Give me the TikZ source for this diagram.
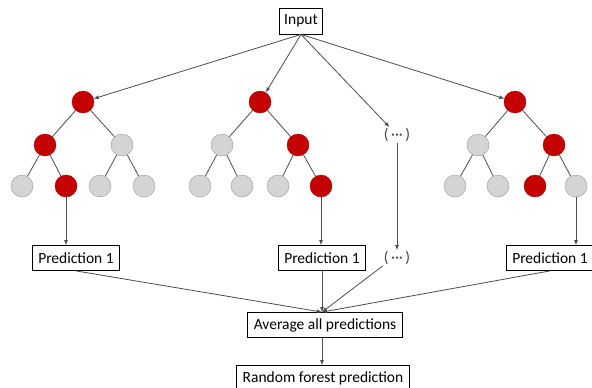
\documentclass[tikz,border=0pt]{standalone}
\usepackage{fontspec}
\setmainfont{Carlito}
\usetikzlibrary{arrows.meta}
\definecolor{leafred}{RGB}{196,0,0}
\definecolor{leafgray}{RGB}{212,212,212}
\tikzset{
  red node/.style = {circle, fill=leafred, draw=leafred!80!black, minimum size=22pt, inner sep=0pt},
  gray node/.style = {circle, fill=leafgray, draw=gray!80, minimum size=22pt, inner sep=0pt},
  box/.style = {draw, thick, inner xsep=6pt, minimum height=25pt, font=\fontsize{15.5}{17}\selectfont},
  dots/.style = {inner sep=1pt, text=black!75, font=\fontsize{15.5}{17}\selectfont},
  edge/.style = {draw=black!70, thick},
  arr/.style = {edge, -{Latex[length=5pt,width=4pt]}}
}
\begin{document}
\begin{tikzpicture}[x=1pt,y=-1pt]
    \useasboundingbox (0,0) rectangle (592,388);

    \node[box, minimum height=26pt, inner xsep=5pt] (input) at (301,21) {Input};

    % first tree
    \node[red node] (a) at (83,102) {};
    \node[red node] (al) at (45,145) {};
    \node[gray node] (ar) at (122,145) {};
    \node[gray node] (all) at (22,186) {};
    \node[red node] (alr) at (66,186) {};
    \node[gray node] (arl) at (100,186) {};
    \node[gray node] (arr) at (144,186) {};

    % second tree
    \node[red node] (b) at (260,102) {};
    \node[gray node] (bl) at (222,145) {};
    \node[red node] (br) at (298,145) {};
    \node[gray node] (bll) at (200,186) {};
    \node[gray node] (blr) at (242,186) {};
    \node[gray node] (brl) at (278,186) {};
    \node[red node] (brr) at (321,186) {};

    % last tree
    \node[red node] (c) at (515,102) {};
    \node[gray node] (cl) at (478,145) {};
    \node[red node] (cr) at (554,145) {};
    \node[gray node] (cll) at (455,186) {};
    \node[gray node] (clr) at (498,186) {};
    \node[red node] (crl) at (535,186) {};
    \node[gray node] (crr) at (576,186) {};

    \node[dots] (dtop) at (397,135) {(\,···\,)};
    \node[dots] (dbot) at (397,258) {(\,···\,)};

    \node[box] (p1) at (76,258) {Prediction 1};
    \node[box] (p2) at (322,258) {Prediction 1};
    \node[box] (p3) at (550,258) {Prediction 1};

    \node[box] (avg) at (325,325) {Average all predictions};
    \node[box] (rf) at (323,378) {Random forest prediction};

    \draw[edge] (a) -- (al) (a) -- (ar) (al) -- (all) (al) -- (alr) (ar) -- (arl) (ar) -- (arr);
    \draw[edge] (b) -- (bl) (b) -- (br) (bl) -- (bll) (bl) -- (blr) (br) -- (brl) (br) -- (brr);
    \draw[edge] (c) -- (cl) (c) -- (cr) (cl) -- (cll) (cl) -- (clr) (cr) -- (crl) (cr) -- (crr);

    \draw[arr] (input.south) -- (a);
    \draw[arr] (input.south) -- (b);
    \draw[arr] (input.south) -- (dtop);
    \draw[arr] (input.south) -- (c);

    \draw[arr] (alr) -- (alr |- p1.north);
    \draw[arr] (brr) -- (brr |- p2.north);
    \draw[arr] (crr) -- (crr |- p3.north);
    \draw[arr] (dtop) -- (dbot);

    \draw[arr] (p1.south) -- (avg.north -| p2.south);
    \draw[arr] (p2.south) -- (avg.north -| p2.south);
    \draw[arr] (dbot.south west) -- (avg.north -| p2.south);
    \draw[arr] (p3.south) -- (avg.north -| p2.south);
    \draw[arr] (avg.south -| p2.south) -- (rf.north -| p2.south);
\end{tikzpicture}
\end{document}
